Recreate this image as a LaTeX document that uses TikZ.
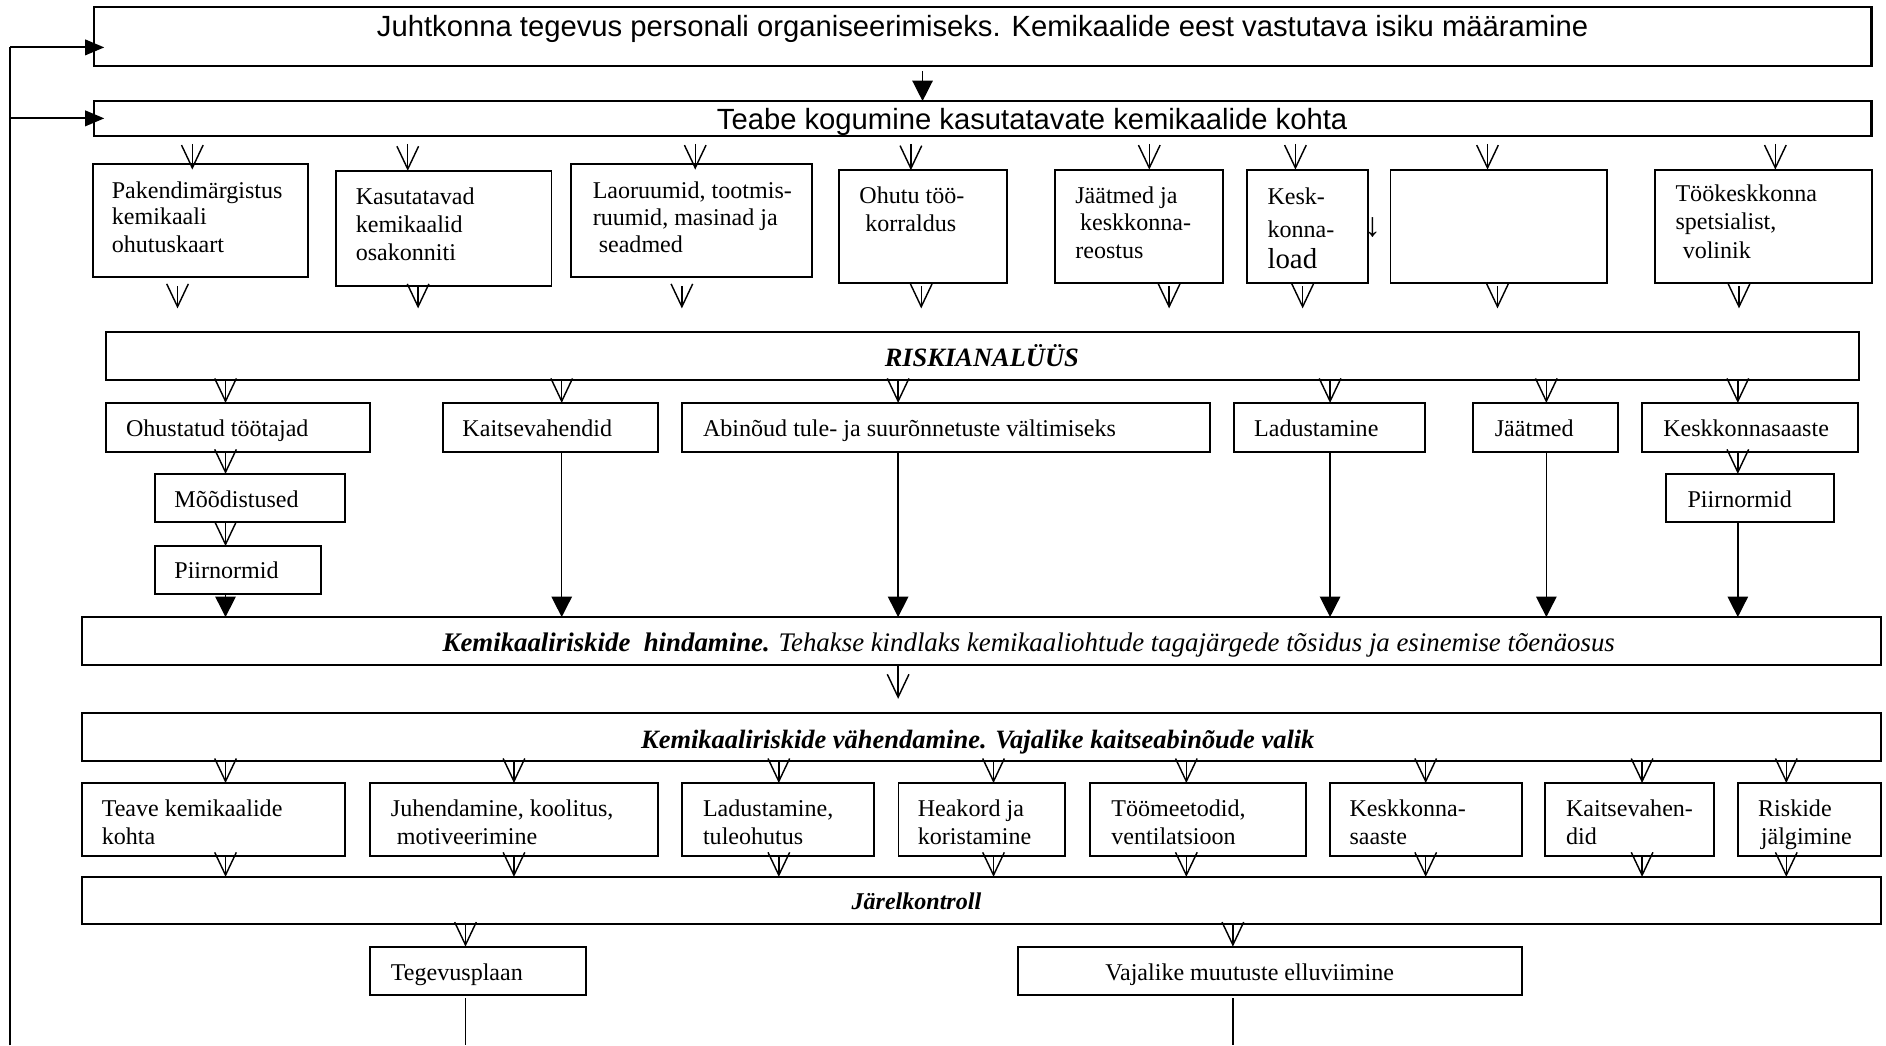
\documentclass[tikz,border=0pt]{standalone}
\usepackage{fontspec}
\setmainfont{Liberation Serif}
\newfontfamily\arialf{Liberation Sans}
\usetikzlibrary{arrows.meta}
\tikzset{
  boxst/.style={draw, rectangle, line width=0.8pt, inner sep=0pt, outer sep=0pt},
  topbox/.style={line width=1pt},
  txtst/.style={anchor=base west, inner sep=0pt, outer sep=0pt, font=\fontsize{10}{12}\selectfont},
  sansst/.style={txtst, font=\arialf\fontsize{12.15}{14}\selectfont},
  hdst/.style={txtst, font=\fontsize{11}{13}\selectfont\bfseries\itshape},
  varr/.style={line width=0.6pt, -{Straight Barb[length=9.5pt,width=9pt,sharp]}},
  farr/.style={line width=0.6pt, -{Triangle[length=8.5pt,width=8.5pt]}},
  fbarr/.style={line width=0.8pt, -{Triangle[length=8pt,width=6.5pt]}},
  fbline/.style={line width=0.8pt},
  plainline/.style={line width=0.6pt}
}
\newcommand\bx[6][]{\node[boxst,#1,minimum width={(#5-#3)*0.5pt},minimum height={(#6-#4)*0.5pt}] (#2) at ({(#3+#5)/2},{(#4+#6)/2}) {};}
\newcommand\tx[4][]{\node[txtst,#1] (#2) at (#3) {#4};}
\begin{document}
\begin{tikzpicture}[x=0.5pt,y=-0.5pt]
\fill[white] (0,0) rectangle (1568,869);
\useasboundingbox (0,0) rectangle (1568,869);

% ---------- boxes ----------
\bx[topbox]{b1}{78}{6}{1556}{55}
\bx[topbox]{b2}{78}{84}{1556}{113}
\bx{p1}{77}{136}{256}{230}
\bx{p2}{279}{142}{458.5}{237.5}
\bx{p3}{475}{136}{675}{230}
\bx{p4}{697.5}{141.5}{837.5}{235.5}
\bx{p5}{877}{141}{1016.5}{235}
\bx{p6}{1037}{141}{1137}{235}
\bx{p7}{1156}{141}{1336}{235}
\bx{p8}{1376}{141}{1556}{235}
\bx{risk}{88}{276}{1545.5}{316}
\bx{r1}{88}{335}{307.5}{375.5}
\bx{r2}{368}{335}{546.7}{375.5}
\bx{r3}{567}{335}{1006}{375.5}
\bx{r4}{1026}{335}{1185}{375.5}
\bx{r5}{1225}{335}{1345}{375.5}
\bx{r6}{1365}{335}{1545}{375.5}
\bx{m1}{128.5}{394}{287}{434}
\bx{n1}{128.5}{454}{267}{494}
\bx{n2}{1385}{394}{1525}{434}
\bx{hind}{68}{513}{1564}{553}
\bx{vah}{68}{593}{1564}{632.5}
\bx{s1}{68}{651}{287}{711.5}
\bx{s2}{307.5}{651}{546.7}{711.5}
\bx{s3}{567}{651}{726.6}{711.5}
\bx{s4}{747}{651}{885.5}{711.5}
\bx{s5}{906}{651}{1085.5}{711.5}
\bx{s6}{1106}{651}{1265.5}{711.5}
\bx{s7}{1284.6}{651}{1424.7}{711.5}
\bx{s8}{1444.8}{651}{1564}{711.5}
\bx{jar}{68}{729}{1564}{768.5}
\bx{t1}{307.5}{787}{487}{827}
\bx{t2}{846}{787}{1265.5}{827}

% ---------- texts ----------
\tx[sansst]{tb1}{313.4,30}{Juhtkonna tegevus personali organiseerimiseks. Kemikaalide eest vastutava isiku määramine}
\tx[sansst]{tb2}{596,108}{Teabe kogumine kasutatavate kemikaalide kohta}

\tx{tp1a}{93,165}{Pakendimärgistus}
\tx{tp1b}{93,187}{kemikaali}
\tx{tp1c}{93,209.8}{ohutuskaart}
\tx{tp2a}{295.8,169.6}{Kasutatavad}
\tx{tp2b}{295.8,193.2}{kemikaalid}
\tx{tp2c}{295.8,216.7}{osakonniti}
\tx{tp3a}{492.8,165}{Laoruumid, tootmis-}
\tx{tp3b}{492.8,187.6}{ruumid, masinad ja}
\tx{tp3c}{497.8,209.8}{seadmed}
\tx{tp4a}{714.5,169}{Ohutu töö-}
\tx{tp4b}{719.4,192.5}{korraldus}
\tx{tp5a}{894,169}{Jäätmed ja}
\tx{tp5b}{898,191.5}{keskkonna-}
\tx{tp5c}{894,215}{reostus}
\tx{tp6a}{1053.8,169.9}{Kesk-}
\tx{tp6b}{1053.8,197.3}{konna-}
\tx[font=\fontsize{12}{14}\selectfont]{tp6c}{1053.8,223}{load}
\node[inner sep=0pt, font=\fontsize{14}{16}\selectfont] (darr) at (1141,189) {↓};
\tx{tp8a}{1393,167.7}{Töökeskkonna}
\tx{tp8b}{1393,191}{spetsialist,}
\tx{tp8c}{1399,215}{volinik}

\tx[hdst]{trisk}{735.6,305}{RISKIANALÜÜS}
\tx{tr1}{104.8,363}{Ohustatud töötajad}
\tx{tr2}{384.5,363}{Kaitsevahendid}
\tx{tr3}{584.5,363}{Abinõud tule- ja suurõnnetuste vältimiseks}
\tx{tr4}{1042.7,363}{Ladustamine}
\tx{tr5}{1242.8,363}{Jäätmed}
\tx{tr6}{1382.8,363}{Keskkonnasaaste}
\tx{tm1}{145,421.8}{Mõõdistused}
\tx{tn1}{145,480.8}{Piirnormid}
\tx{tn2}{1403,421.8}{Piirnormid}

\tx[font=\fontsize{11.15}{13}\selectfont\itshape]{thind}{368,541.8}{{\bfseries Kemikaaliriskide\ \ hindamine.} Tehakse kindlaks kemikaaliohtude tagajärgede tõsidus ja esinemise tõenäosus}
\tx[hdst]{tvah}{533,622}{Kemikaaliriskide vähendamine. Vajalike kaitseabinõude valik}

\tx{ts1a}{84.6,679}{Teave kemikaalide}
\tx{ts1b}{84.6,702}{kohta}
\tx{ts2a}{325,679}{Juhendamine, koolitus,}
\tx{ts2b}{330,702}{motiveerimine}
\tx{ts3a}{584.5,679}{Ladustamine,}
\tx{ts3b}{584.5,702}{tuleohutus}
\tx{ts4a}{763,679}{Heakord ja}
\tx{ts4b}{763,702}{koristamine}
\tx{ts5a}{924,679}{Töömeetodid,}
\tx{ts5b}{924,702}{ventilatsioon}
\tx{ts6a}{1122,679}{Keskkonna-}
\tx{ts6b}{1122,702}{saaste}
\tx{ts7a}{1302,679}{Kaitsevahen-}
\tx{ts7b}{1302,702}{did}
\tx{ts8a}{1461.7,679}{Riskide}
\tx{ts8b}{1464,702}{jälgimine}

\tx[hdst,font=\fontsize{10}{12}\selectfont\bfseries\itshape]{tjar}{708,756}{Järelkontroll}
\tx{tt1}{325,814.8}{Tegevusplaan}
\tx{tt2}{919,814.8}{Vajalike muutuste elluviimine}

% ---------- column coordinates ----------
\coordinate (cx) at (767,0);
\coordinate (c1) at (159.9,0);
\coordinate (c2) at (339,0);
\coordinate (c3) at (578,0);
\coordinate (c4) at (757.3,0);
\coordinate (c5) at (955.5,0);
\coordinate (c6) at (1077,0);
\coordinate (c7) at (1236.7,0);
\coordinate (c8) at (1476,0);
\coordinate (d1) at (147.6,0);
\coordinate (d2) at (347.6,0);
\coordinate (d3) at (566.9,0);
\coordinate (d4) at (765.9,0);
\coordinate (d5) at (972,0);
\coordinate (d6) at (1083,0);
\coordinate (d7) at (1245,0);
\coordinate (d8) at (1445.8,0);
\coordinate (e1) at (187.5,0);
\coordinate (e2) at (467,0);
\coordinate (e3) at (746.7,0);
\coordinate (e4) at (1105.8,0);
\coordinate (e5) at (1285.6,0);
\coordinate (e6) at (1444.8,0);
\coordinate (f1) at (187.5,0);
\coordinate (f2) at (427.3,0);
\coordinate (f3) at (647.5,0);
\coordinate (f4) at (826,0);
\coordinate (f5) at (986.3,0);
\coordinate (f6) at (1185.3,0);
\coordinate (f7) at (1365.2,0);
\coordinate (f8) at (1485.1,0);
\coordinate (g1) at (387,0);
\coordinate (g2) at (1025,0);

% ---------- feedback loop ----------
\coordinate (fbtop) at (8.6,39.4);
\coordinate (fbmid) at (8.6,98.4);
\coordinate (fbbot) at (8.6,869);
\coordinate (end1) at (387,869);
\coordinate (end2) at (1025,869);
\draw[fbline] (fbbot) -- (fbtop);
\draw[fbarr, shorten >=-4.35pt] (fbtop) -- (fbtop -| b1.west);
\draw[fbarr, shorten >=-4.35pt] (fbmid) -- (fbmid -| b2.west);

% ---------- connectors ----------
\draw[farr, shorten <=2pt] (b1.south -| cx) -- (b2.north -| cx);

\draw[varr, shorten <=3.35pt, shorten >=-2.5pt] (b2.south -| c1) -- (p1.north -| c1);
\draw[varr, shorten <=3.35pt] (b2.south -| c2) -- (p2.north -| c2);
\draw[varr, shorten <=3.35pt, shorten >=-2.5pt] (b2.south -| c3) -- (p3.north -| c3);
\draw[varr, shorten <=3.35pt] (b2.south -| c4) -- (p4.north -| c4);
\draw[varr, shorten <=3.35pt] (b2.south -| c5) -- (p5.north -| c5);
\draw[varr, shorten <=3.35pt] (b2.south -| c6) -- (p6.north -| c6);
\draw[varr, shorten <=3.35pt] (b2.south -| c7) -- (p7.north -| c7);
\draw[varr, shorten <=3.35pt] (b2.south -| c8) -- (p8.north -| c8);

\draw[varr, shorten <=4pt, shorten >=9.8pt] (p1.south -| d1) -- (risk.north -| d1);
\draw[varr, shorten <=0.25pt, shorten >=9.8pt] (p2.south -| d2) -- (risk.north -| d2);
\draw[varr, shorten <=4pt, shorten >=9.8pt] (p3.south -| d3) -- (risk.north -| d3);
\draw[varr, shorten <=1.25pt, shorten >=9.8pt] (p4.south -| d4) -- (risk.north -| d4);
\draw[varr, shorten <=1.5pt, shorten >=9.8pt] (p5.south -| d5) -- (risk.north -| d5);
\draw[varr, shorten <=1.5pt, shorten >=9.8pt] (p6.south -| d6) -- (risk.north -| d6);
\draw[varr, shorten <=1.5pt, shorten >=9.8pt] (p7.south -| d7) -- (risk.north -| d7);
\draw[varr, shorten <=1.5pt, shorten >=9.8pt] (p8.south -| d8) -- (risk.north -| d8);

\draw[varr] (risk.south -| e1) -- (r1.north -| e1);
\draw[varr] (risk.south -| e2) -- (r2.north -| e2);
\draw[varr] (risk.south -| e3) -- (r3.north -| e3);
\draw[varr] (risk.south -| e4) -- (r4.north -| e4);
\draw[varr] (risk.south -| e5) -- (r5.north -| e5);
\draw[varr] (risk.south -| e6) -- (r6.north -| e6);
\draw[varr] (r1.south -| e1) -- (m1.north -| e1);
\draw[varr] (m1.south -| e1) -- (n1.north -| e1);
\draw[varr] (r6.south -| e6) -- (n2.north -| e6);

\draw[farr] (n1.south -| e1) -- (hind.north -| e1);
\draw[farr] (r2.south -| e2) -- (hind.north -| e2);
\draw[farr] (r3.south -| e3) -- (hind.north -| e3);
\draw[farr] (r4.south -| e4) -- (hind.north -| e4);
\draw[farr] (r5.south -| e5) -- (hind.north -| e5);
\draw[farr] (n2.south -| e6) -- (hind.north -| e6);

\draw[varr, shorten >=6pt] (hind.south -| e3) -- (vah.north -| e3);

\draw[varr] (vah.south -| f1) -- (s1.north -| f1);
\draw[varr] (vah.south -| f2) -- (s2.north -| f2);
\draw[varr] (vah.south -| f3) -- (s3.north -| f3);
\draw[varr] (vah.south -| f4) -- (s4.north -| f4);
\draw[varr] (vah.south -| f5) -- (s5.north -| f5);
\draw[varr] (vah.south -| f6) -- (s6.north -| f6);
\draw[varr] (vah.south -| f7) -- (s7.north -| f7);
\draw[varr] (vah.south -| f8) -- (s8.north -| f8);

\draw[varr] (s1.south -| f1) -- (jar.north -| f1);
\draw[varr] (s2.south -| f2) -- (jar.north -| f2);
\draw[varr] (s3.south -| f3) -- (jar.north -| f3);
\draw[varr] (s4.south -| f4) -- (jar.north -| f4);
\draw[varr] (s5.south -| f5) -- (jar.north -| f5);
\draw[varr] (s6.south -| f6) -- (jar.north -| f6);
\draw[varr] (s7.south -| f7) -- (jar.north -| f7);
\draw[varr] (s8.south -| f8) -- (jar.north -| f8);

\draw[varr] (jar.south -| g1) -- (t1.north -| g1);
\draw[varr] (jar.south -| g2) -- (t2.north -| g2);

\draw[plainline, shorten <=1.5pt] (t1.south -| g1) -- (end1);
\draw[plainline, shorten <=1.5pt] (t2.south -| g2) -- (end2);
\end{tikzpicture}
\end{document}
